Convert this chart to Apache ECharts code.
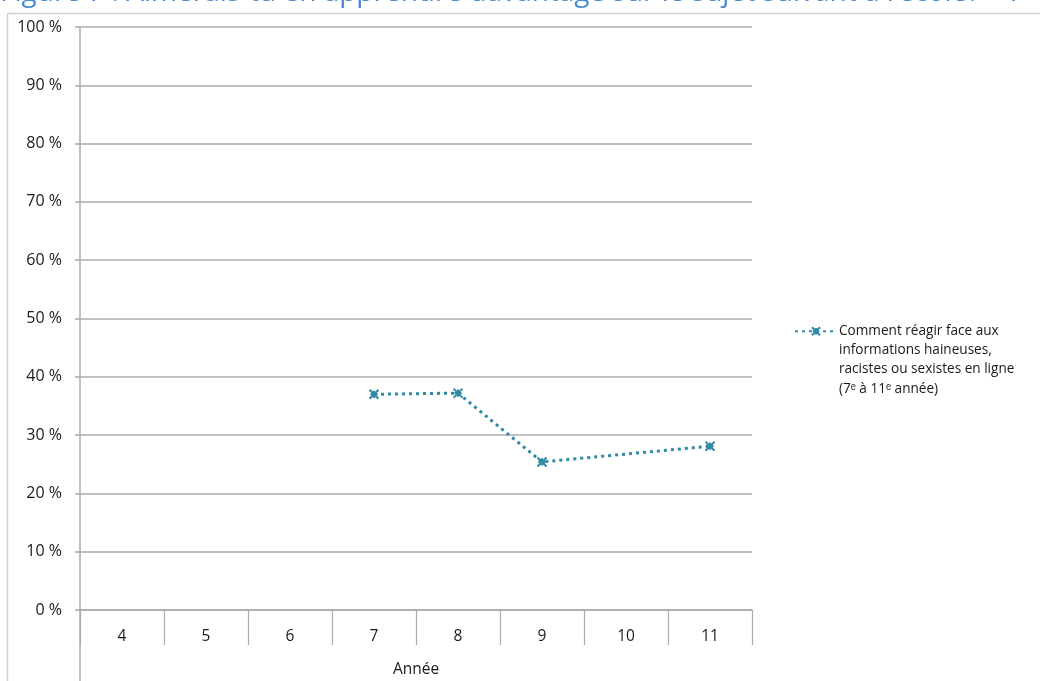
<!DOCTYPE html>
<html>
<head>
<meta charset="utf-8">
<script src="https://cdn.jsdelivr.net/npm/echarts@6/dist/echarts.min.js"></script>
<style>
  html, body { margin: 0; padding: 0; background: #fff; }
  #chart { width: 1040px; height: 681px; }
</style>
</head>
<body>
<div id="chart"></div>
<script>
// Grade levels on the category axis
const years = ['4', '5', '6', '7', '8', '9', '10', '11'];
// Share of students (%) per grade; grades 4-6 and 10 have no value
const hatefulInfo = [null, null, null, 37.0, 37.2, 25.4, null, 28.1];
const seriesName = 'Comment réagir face aux\ninformations haineuses,\nracistes ou sexistes en ligne\n(7\u1d49 à 11\u1d49 année)';
const yTicks = [0, 10, 20, 30, 40, 50, 60, 70, 80, 90, 100];

const teal = '#2f8aa5';
const gridGray = '#ababab';
const font = '"Open Sans", "Liberation Sans", sans-serif';

const chart = echarts.init(document.getElementById('chart'), null, { renderer: 'canvas' });

chart.setOption({
  animation: false,
  backgroundColor: '#fff',
  grid: { left: 80, right: 288, top: 27, bottom: 71, containLabel: false, outerBoundsMode: 'none' },
  graphic: [
    // heading running off the top edge
    {
      type: 'text', left: 0, top: -21,
      style: {
        text: 'Figure 7 : Aimerais-tu en apprendre davantage sur le sujet suivant à l\u2019école? – 7',
        fill: '#4a8bd0', font: '28px ' + font
      }
    },
    // outer chart frame
    { type: 'line', shape: { x1: 7.5, y1: 13.5, x2: 1040, y2: 13.5 }, style: { stroke: '#cfcfcf', lineWidth: 1.5 } },
    { type: 'line', shape: { x1: 7.5, y1: 13.5, x2: 7.5, y2: 681 }, style: { stroke: '#cfcfcf', lineWidth: 1.5 } },
    // value axis line continued through the category label band
    { type: 'line', shape: { x1: 80, y1: 610, x2: 80, y2: 681 }, style: { stroke: gridGray, lineWidth: 1.5 } }
  ],
  legend: {
    orient: 'vertical',
    left: 789, top: 259,
    itemWidth: 42, itemHeight: 10,
    itemGap: 0,
    // leading blank lines keep the marker level with the first text line
    formatter: name => '\n\n\n' + name,
    textStyle: { fontFamily: font, fontSize: 13.6, color: '#1a1a1a', lineHeight: 19.2, padding: [0, 0, 0, -3] },
    data: [{ name: seriesName }]
  },
  xAxis: {
    type: 'category',
    data: years,
    boundaryGap: true,
    name: 'Année',
    nameLocation: 'middle',
    nameGap: 52,
    nameTextStyle: { fontFamily: font, fontSize: 15.5, color: '#1a1a1a' },
    axisLine: { show: true, lineStyle: { color: gridGray, width: 1.5 } },
    axisTick: { show: true, length: 35, lineStyle: { color: gridGray, width: 1.2 } },
    axisLabel: { fontFamily: font, fontSize: 15.5, color: '#1a1a1a', margin: 19 },
    splitLine: { show: false }
  },
  yAxis: {
    type: 'value',
    min: 0, max: 100, interval: 10,
    axisLine: { show: true, lineStyle: { color: gridGray, width: 1.5 } },
    axisTick: { show: true, length: 5, lineStyle: { color: gridGray, width: 1.5 } },
    axisLabel: {
      fontFamily: font, fontSize: 16, color: '#1a1a1a', margin: 18,
      formatter: v => yTicks.includes(v) ? v + '\u00a0%' : ''
    },
    splitLine: { show: true, lineStyle: { color: gridGray, width: 1.5 } }
  },
  series: [{
    name: seriesName,
    type: 'line',
    data: hatefulInfo,
    connectNulls: true,
    symbol: 'path://M0,0L10,10M10,0L0,10M5,1L5,9M1,5L9,5',
    symbolSize: 9,
    showSymbol: true,
    itemStyle: { color: teal, borderColor: teal, borderWidth: 2 },
    lineStyle: { color: teal, width: 3, type: [3, 4], cap: 'butt' },
    emphasis: { disabled: true }
  }]
});
</script>
</body>
</html>
